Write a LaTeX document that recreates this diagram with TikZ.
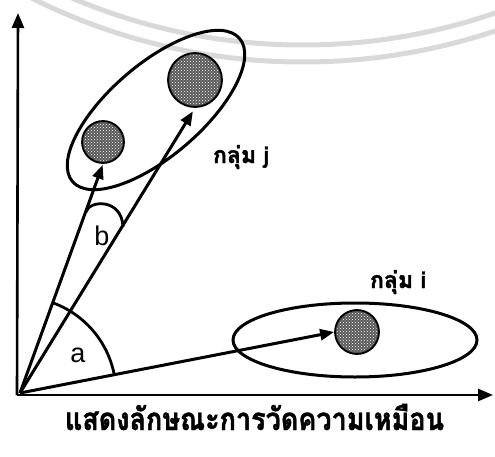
\documentclass[tikz,border=0pt]{standalone}
\usepackage{fontspec}
\newfontfamily\thaifont[Script=Thai,BoldFeatures={FakeBold=1.5}]{Loma}
\newfontfamily\labfont{Liberation Sans}
\usetikzlibrary{arrows.meta,patterns,calc}
\begin{document}
\begin{tikzpicture}[x=1pt,y=1pt,
  axis/.style={line width=2.6pt,-{Triangle[length=15pt,width=12pt]}},
  vec/.style={line width=3pt,-{Triangle[length=14pt,width=11pt]}},
  grp/.style={line width=3pt},
  anglearc/.style={line width=2.8pt},
  dot/.style={circle,draw=black,line width=1.8pt,fill=black!65,inner sep=0pt},
  grplabel/.style={font=\thaifont\bfseries\fontsize{23}{23}\selectfont,inner sep=0pt,anchor=base},
  anglabel/.style={font=\labfont\fontsize{27}{27}\selectfont,inner sep=0pt},
  wm/.style={line width=5pt,color=black!15}]
\useasboundingbox (0,0) rectangle (495,456);
% watermark arcs
\begin{scope}
\clip (0,0) rectangle (495,456);
\draw[wm] (303,1001) circle[radius=590];
\draw[wm] (303,1001) circle[radius=607];
\end{scope}
% nodes
\coordinate (O) at (20,63);
\coordinate (corner) at (17,61);
\coordinate (ytip) at (18,443);
\coordinate (xtip) at (493,61);
\node[dot,minimum size=42pt] (c1) at (103,314) {};
\node[dot,minimum size=54pt] (c2) at (195,376) {};
\node[dot,minimum size=44pt] (ci) at (357,124) {};
\fill[pattern=crosshatch dots,pattern color=white] (c1) circle[radius=19];
\fill[pattern=crosshatch dots,pattern color=white] (c2) circle[radius=25];
\fill[pattern=crosshatch dots,pattern color=white] (ci) circle[radius=20];
% group ellipses
\draw[grp] (156,346) ellipse[x radius=110,y radius=46,rotate=40.6];
\draw[grp] (355,116) ellipse[x radius=122,y radius=37];
% axes
\draw[axis] (corner) -- (ytip);
\draw[axis] (corner) -- (xtip);
% vectors
\draw[vec,shorten >=1pt] (O) -- (c1.south);
\draw[vec,shorten >=4pt] (O) -- (c2.south);
\draw[vec] (O) -- (ci.west);
% angle arcs
\draw[anglearc] ($(O)+(11:96)$) arc[start angle=11,end angle=70.5,radius=96];
\draw[anglearc] (86,244) .. controls (89,256) and (122,258) .. (123,229);
% labels
\node[anglabel] (la) at (78,101) {a};
\node[anglabel] (lb) at (102,220) {b};
\node[grplabel] (gj) at (241,293) {กลุ่ม j};
\node[grplabel] (gi) at (398,168) {กลุ่ม i};
\node[font=\thaifont\bfseries\fontsize{27}{27}\selectfont,inner sep=0pt,anchor=base,yscale=1.15] (title) at (254.5,26) {แสดงลักษณะการวัดความเหมือน};
\end{tikzpicture}
\end{document}
